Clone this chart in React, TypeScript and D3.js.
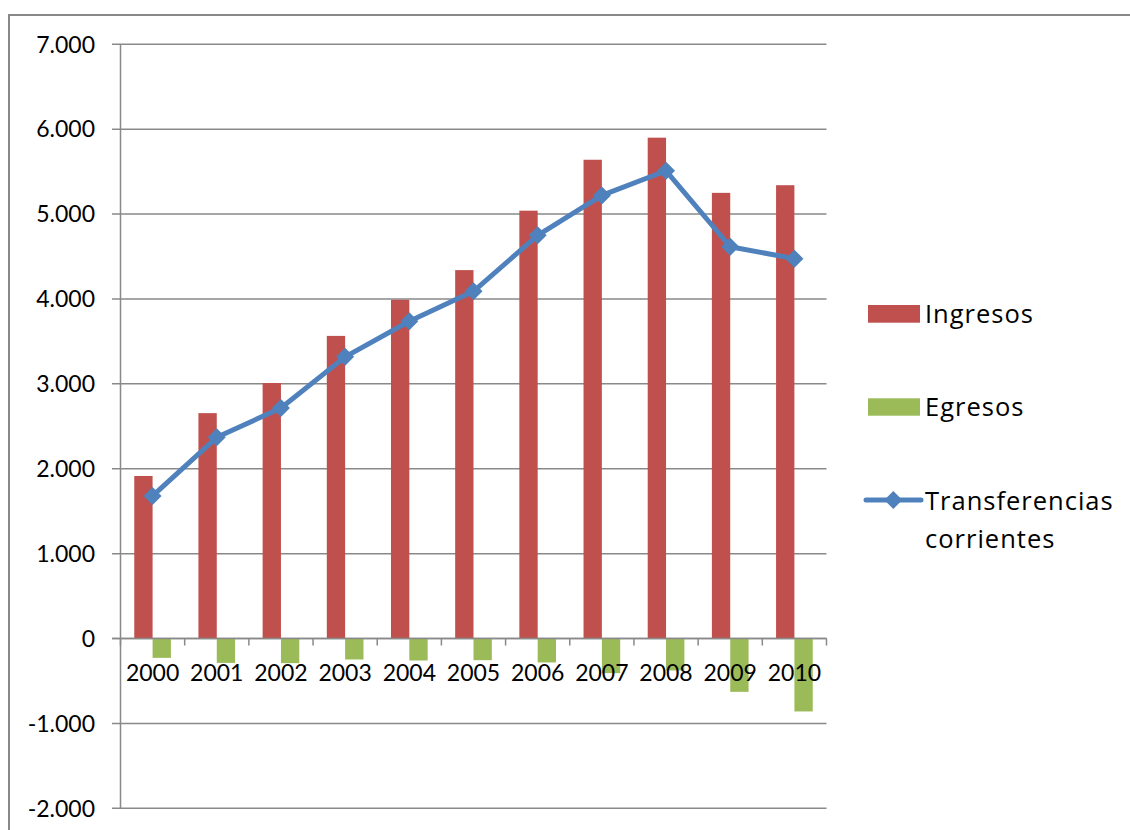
import React from "react";
import * as d3 from "d3";

const years = ["2000", "2001", "2002", "2003", "2004", "2005", "2006", "2007", "2008", "2009", "2010"];
const ingresos = [1915, 2655, 3010, 3565, 3990, 4340, 5040, 5640, 5900, 5250, 5340];
const egresos = [-228, -287, -290, -247, -259, -255, -282, -408, -376, -628, -859];
const transferencias = [1680, 2370, 2715, 3318, 3737, 4090, 4750, 5220, 5510, 4615, 4475];
const yTicks = [-2000, -1000, 0, 1000, 2000, 3000, 4000, 5000, 6000, 7000];

const RED = "#C0504D";
const GREEN = "#9BBB59";
const BLUE = "#4F81BD";
const GRID = "#898989";
const FONT = "Lato, 'Open Sans', sans-serif";
const LEGEND_FONT = "'Open Sans', Lato, sans-serif";

const fmt = (v: number) => {
  const s = d3.format(",")(Math.abs(v)).replace(/,/g, ".");
  return (v < 0 ? "-" : "") + s;
};

export default function App() {
  const left = 120.5;
  const right = 826.5;
  const top = 44.3;
  const bottom = 808.3;

  const x = d3.scaleBand<string>().domain(years).range([left, right]).paddingInner(0).paddingOuter(0);
  const y = d3.scaleLinear().domain([-2000, 7000]).range([bottom, top]);
  const bw = x.bandwidth() / 3.5; // gap width 150%
  const zero = y(0);

  const line = d3
    .line<number>()
    .x((_, i) => (x(years[i]) as number) + x.bandwidth() / 2)
    .y((d) => y(d));

  const diamond = (cx: number, cy: number, r: number) =>
    `M${cx},${cy - r}L${cx + r},${cy}L${cx},${cy + r}L${cx - r},${cy}Z`;

  return (
    <svg
      width={1130}
      height={830}
      style={{ position: "absolute", left: 0, top: 0, background: "#fff" }}
      fontFamily={FONT}
    >
      <rect x={9} y={15} width={1140} height={840} fill="#fff" stroke="#888" strokeWidth={2} />

      {/* gridlines and y ticks */}
      {yTicks.map((t) => (
        <g key={t}>
          <line x1={112} x2={right} y1={y(t)} y2={y(t)} stroke={GRID} strokeWidth={1.5} />
          <text x={95} y={y(t)} dy="0.36em" textAnchor="end" fontSize={23} fill="#000">
            {fmt(t)}
          </text>
        </g>
      ))}
      <line x1={left} x2={left} y1={top} y2={bottom} stroke={GRID} strokeWidth={1.5} />

      {/* bars */}
      {years.map((yr, i) => {
        const cx = (x(yr) as number) + x.bandwidth() / 2;
        return (
          <g key={yr}>
            <rect x={cx - bw} y={y(ingresos[i])} width={bw} height={zero - y(ingresos[i])} fill={RED} />
            <rect x={cx} y={zero} width={bw} height={y(egresos[i]) - zero} fill={GREEN} />
          </g>
        );
      })}

      {/* category axis at zero */}
      <line x1={112} x2={right} y1={zero} y2={zero} stroke={GRID} strokeWidth={1.5} />
      {[...years.map((yr) => x(yr) as number), right].map((tx, i) => (
        <line key={i} x1={tx} x2={tx} y1={zero} y2={zero + 7} stroke={GRID} strokeWidth={1.5} />
      ))}
      {years.map((yr) => (
        <text
          key={yr}
          x={(x(yr) as number) + x.bandwidth() / 2}
          y={681}
          textAnchor="middle"
          fontSize={23}
          fill="#000"
        >
          {yr}
        </text>
      ))}

      {/* line series */}
      <path d={line(transferencias) || ""} fill="none" stroke={BLUE} strokeWidth={5} strokeLinejoin="round" strokeLinecap="round" />
      {transferencias.map((v, i) => (
        <path key={i} d={diamond((x(years[i]) as number) + x.bandwidth() / 2, y(v), 9)} fill={BLUE} />
      ))}

      {/* legend */}
      <g fontFamily={LEGEND_FONT} fontSize={25.5} letterSpacing={1} fill="#000">
        <rect x={868} y={305} width={52} height={17.7} fill={RED} />
        <text x={925} y={322.5}>Ingresos</text>
        <rect x={868} y={398.3} width={52} height={17.4} fill={GREEN} />
        <text x={925} y={415.5}>Egresos</text>
        <line x1={866} x2={921} y1={500} y2={500} stroke={BLUE} strokeWidth={5} strokeLinecap="round" />
        <path d={diamond(893.3, 500, 9)} fill={BLUE} />
        <text x={925} y={510}>Transferencias</text>
        <text x={925} y={548}>corrientes</text>
      </g>
    </svg>
  );
}
